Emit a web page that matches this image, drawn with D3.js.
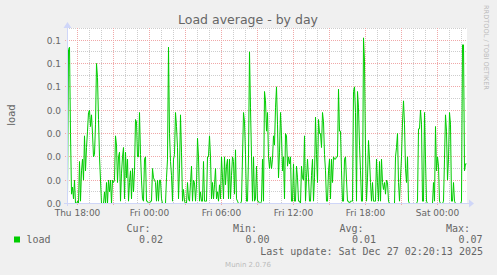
<!DOCTYPE html>
<html>
<head>
<meta charset="utf-8">
<script src="https://cdn.jsdelivr.net/npm/d3@7"></script>
<style>
  body { margin: 0; background: #f0f0f0; }
  svg { display: block; }
  text { fill: #666; }
</style>
</head>
<body>
<div id="chart"></div>
<script>
// munin "load" plugin, 5 minute samples, one per pixel
const load = [
  0.003,0.066,0.067,0.030,0.004,0.007,0.002,0.010,0.000,0.000,
  0.001,0.000,0.018,0.001,0.014,0.019,0.010,0.029,0.014,0.024,
  0.031,0.039,0.040,0.033,0.038,0.030,0.020,0.021,0.034,0.060,
  0.054,0.036,0.020,0.010,0.000,0.000,0.000,0.005,0.000,0.009,
  0.000,0.010,0.005,0.010,0.000,0.010,0.009,0.010,0.029,0.025,
  0.009,0.020,0.022,0.001,0.013,0.020,0.024,0.002,0.022,0.011,
  0.019,0.001,0.009,0.014,0.002,0.015,0.005,0.014,
  0.036,0.035,0.020,0.020,0.039,0.021,0.010,0.002,0.001,0.019,
  0.020,0.001,0.001,0.000,0.000,0.001,0.001,0.015,0.011,0.010,
  0.009,0.001,0.010,0.001,0.010,0.010,0.002,0.000,0.000,0.000,
  0.000,0.011,0.019,0.067,0.030,0.018,0.012,0.001,0.019,0.021,
  0.039,0.033,0.024,0.002,0.015,0.038,0.022,0.001,0.006,0.001,
  0.000,0.000,0.009,0.002,0.001,0.009,0.016,0.001,0.010,0.009,
  0.001,0.008,0.028,0.020,0.001,0.005,0.001,
  0.001,0.018,0.001,0.001,0.001,0.020,0.020,0.029,0.020,0.002,
  0.009,0.002,0.008,0.015,0.002,0.005,0.001,0.008,0.002,0.020,
  0.011,0.002,0.020,0.008,0.016,0.019,0.002,0.019,0.002,0.012,
  0.020,0.018,0.004,0.023,0.002,0.001,0.000,0.000,0.000,0.001,
  0.020,0.039,0.035,0.021,0.001,0.001,0.020,0.065,0.041,0.020,
  0.001,0.020,0.001,0.002,0.016,0.001,0.001,0.000,0.000,0.001,
  0.019,0.001,0.048,0.044,0.031,0.039,0.020,0.015,
  0.020,0.015,0.019,0.029,0.025,0.041,0.050,0.034,0.011,0.022,
  0.039,0.029,0.014,0.020,0.002,0.030,0.029,0.016,0.020,0.017,
  0.020,0.001,0.001,0.017,0.001,0.001,0.016,0.011,0.001,0.001,
  0.000,0.016,0.011,0.010,0.029,0.001,0.011,0.019,0.011,0.001,
  0.001,0.012,0.019,0.001,0.011,0.037,0.021,0.009,0.036,0.030,
  0.030,0.024,0.039,0.035,0.021,0.014,0.001,0.001,0.014,0.019,
  0.002,0.019,0.009,0.020,0.019,0.019,0.020,
  0.020,0.049,0.031,0.031,0.014,0.001,0.001,0.019,0.020,0.010,
  0.001,0.001,0.000,0.001,0.001,0.001,0.048,0.050,0.039,0.001,
  0.048,0.041,0.025,0.014,0.001,0.001,0.071,0.061,0.022,0.001,
  0.011,0.027,0.019,0.009,0.001,0.009,0.001,0.001,0.001,0.019,
  0.009,0.001,0.018,0.001,0.019,0.009,0.006,0.009,0.004,0.010,
  0.009,0.001,0.000,0.000,0.000,0.000,0.000,0.000,0.020,0.024,
  0.030,0.009,0.001,0.011,0.020,0.035,0.044,0.034,
  0.015,0.009,0.020,0.001,0.000,0.000,0.000,0.000,0.000,0.000,
  0.000,0.000,0.001,0.032,0.032,0.040,0.034,0.001,0.001,0.039,
  0.019,0.001,0.000,0.000,0.000,0.000,0.000,0.000,0.009,0.001,
  0.033,0.014,0.020,0.016,0.001,0.000,0.000,0.000,0.001,0.019,
  0.038,0.031,0.010,0.019,0.039,0.034,0.001,0.001,0.009,0.001,
  0.000,0.000,0.000,0.000,0.000,0.000,0.001,0.068,0.068,0.014,
  0.017,0.017
];

const startTime = new Date(2025, 11, 25, 17, 8, 20);
const stepMs = 5 * 60 * 1000;

const yMajor = [0, 0.01, 0.02, 0.03, 0.04, 0.05, 0.06, 0.07];
const yMinor = [0.005, 0.015, 0.025, 0.035, 0.045, 0.055, 0.065, 0.075];

const legendHeads = ["Cur:", "Min:", "Avg:", "Max:"];
const legendVals = ["0.02", "0.00", "0.01", "0.07"];
const lastUpdate = "Last update: Sat Dec 27 02:20:13 2025";

const W = 497, H = 275;
const pLeft = 67, pRight = 467, pTop = 28.5, pBottom = 203.5;
const crisp = v => Math.floor(v) + 0.5;
const minorCol = "#cdcdcd", majorCol = "#f0a8a8";

const svg = d3.select("#chart").append("svg")
    .attr("width", W)
    .attr("height", H);

svg.append("rect")
    .attr("width", W)
    .attr("height", H)
    .attr("fill", "#f0f0f0");

svg.append("rect")
    .attr("x", pLeft)
    .attr("y", 28)
    .attr("width", pRight - pLeft)
    .attr("height", 176)
    .attr("fill", "#fff");

const endTime = new Date(+startTime + load.length * stepMs);
const x = d3.scaleTime().domain([startTime, endTime]).range([pLeft, pRight]);
const y = d3.scaleLinear().domain([0, 0.075]).range([pBottom, pTop]);

const data = load.map((v, i) => ({ t: new Date(+startTime + (i + 0.5) * stepMs), v: v }));

// grid
const hours = x.ticks(d3.timeHour.every(1));
const grid = svg.append("g").attr("shape-rendering", "crispEdges");
grid.selectAll("line.vmin")
    .data(hours.filter(d => d.getHours() % 3 != 0))
    .join("line")
    .attr("x1", d => crisp(x(d))).attr("x2", d => crisp(x(d)))
    .attr("y1", 28).attr("y2", 203)
    .attr("stroke", minorCol)
    .attr("stroke-dasharray", "1,1");

grid.selectAll("line.hmin")
    .data(yMinor)
    .join("line")
    .attr("x1", pLeft).attr("x2", pRight)
    .attr("y1", d => crisp(y(d))).attr("y2", d => crisp(y(d)))
    .attr("stroke", minorCol)
    .attr("stroke-dasharray", "1,1");

grid.selectAll("line.vmaj")
    .data(hours.filter(d => d.getHours() % 3 == 0))
    .join("line")
    .attr("x1", d => crisp(x(d))).attr("x2", d => crisp(x(d)))
    .attr("y1", 28).attr("y2", 206)
    .attr("stroke", majorCol)
    .attr("stroke-dasharray", "1,1");

grid.selectAll("line.hmaj")
    .data(yMajor.slice(1))
    .join("line")
    .attr("x1", pLeft - 2).attr("x2", pRight)
    .attr("y1", d => crisp(y(d))).attr("y2", d => crisp(y(d)))
    .attr("stroke", majorCol)
    .attr("stroke-dasharray", "1,1");

// labels
svg.append("g").selectAll("text")
    .data(yMajor)
    .join("text")
    .attr("x", 61)
    .attr("y", d => crisp(y(d)) + 3.5)
    .attr("text-anchor", "end")
    .style("font", "9px 'DejaVu Sans'")
    .text(d3.format(".1f"));

svg.append("g").selectAll("text")
    .data(hours.filter(d => d.getHours() % 6 == 0))
    .join("text")
    .attr("x", d => crisp(x(d)))
    .attr("y", 216)
    .attr("text-anchor", "middle")
    .style("font", "9px 'DejaVu Sans'")
    .text(d3.timeFormat("%a %H:%M"));

// the series
svg.append("path")
    .datum(data)
    .attr("fill", "none")
    .attr("stroke", "#00cc00")
    .attr("stroke-width", 1)
    .attr("d", d3.line().x(d => x(d.t)).y(d => y(d.v)));

// axes with arrows
const axisCol = "#cfd6f8";
svg.append("line")
    .attr("x1", pLeft - 3).attr("x2", pRight + 2)
    .attr("y1", 203.5).attr("y2", 203.5)
    .attr("stroke", axisCol);
svg.append("line")
    .attr("x1", pLeft + 0.5).attr("x2", pLeft + 0.5)
    .attr("y1", 206).attr("y2", 25)
    .attr("stroke", axisCol);
svg.append("path")
    .attr("d", "M" + (pRight + 2) + ",199.5L" + (pRight + 7) + ",203.5L" + (pRight + 2) + ",207.5Z")
    .attr("fill", axisCol);
svg.append("path")
    .attr("d", "M" + (pLeft - 3.5) + ",28L" + (pLeft + 0.5) + ",22L" + (pLeft + 4.5) + ",28Z")
    .attr("fill", axisCol);

// title and side texts
svg.append("text")
    .attr("x", 248).attr("y", 24)
    .attr("text-anchor", "middle")
    .style("font", "12.5px 'DejaVu Sans'")
    .text("Load average - by day");

svg.append("text")
    .attr("transform", "translate(15," + 115 + ") rotate(-90)")
    .attr("text-anchor", "middle")
    .style("font", "10px 'DejaVu Sans'")
    .text("load");

svg.append("text")
    .attr("transform", "translate(484,5) rotate(90)")
    .style("font", "6.6px 'DejaVu Sans'")
    .style("fill", "#bbb")
    .text("RRDTOOL / TOBI OETIKER");

// legend
const mono = "10px 'DejaVu Sans Mono'";
svg.append("rect")
    .attr("x", 14).attr("y", 236.5)
    .attr("width", 6).attr("height", 6)
    .attr("fill", "#00cc00");
svg.append("text")
    .attr("x", 26.5).attr("y", 243)
    .style("font", mono)
    .text("load");

const colX = [150.5, 257, 363.5, 470];
svg.append("g").selectAll("text")
    .data(legendHeads)
    .join("text")
    .attr("x", (d, i) => colX[i])
    .attr("y", 231.5)
    .attr("text-anchor", "end")
    .style("font", mono)
    .text(d => d);
svg.append("g").selectAll("text")
    .data(legendVals)
    .join("text")
    .attr("x", (d, i) => colX[i] + 12.5)
    .attr("y", 243)
    .attr("text-anchor", "end")
    .style("font", mono)
    .text(d => d);

svg.append("text")
    .attr("x", 483).attr("y", 254.5)
    .attr("text-anchor", "end")
    .style("font", mono)
    .text(lastUpdate);

svg.append("text")
    .attr("x", 248).attr("y", 267)
    .attr("text-anchor", "middle")
    .style("font", "7px 'DejaVu Sans'")
    .style("fill", "#bbb")
    .text("Munin 2.0.76");
</script>
</body>
</html>
